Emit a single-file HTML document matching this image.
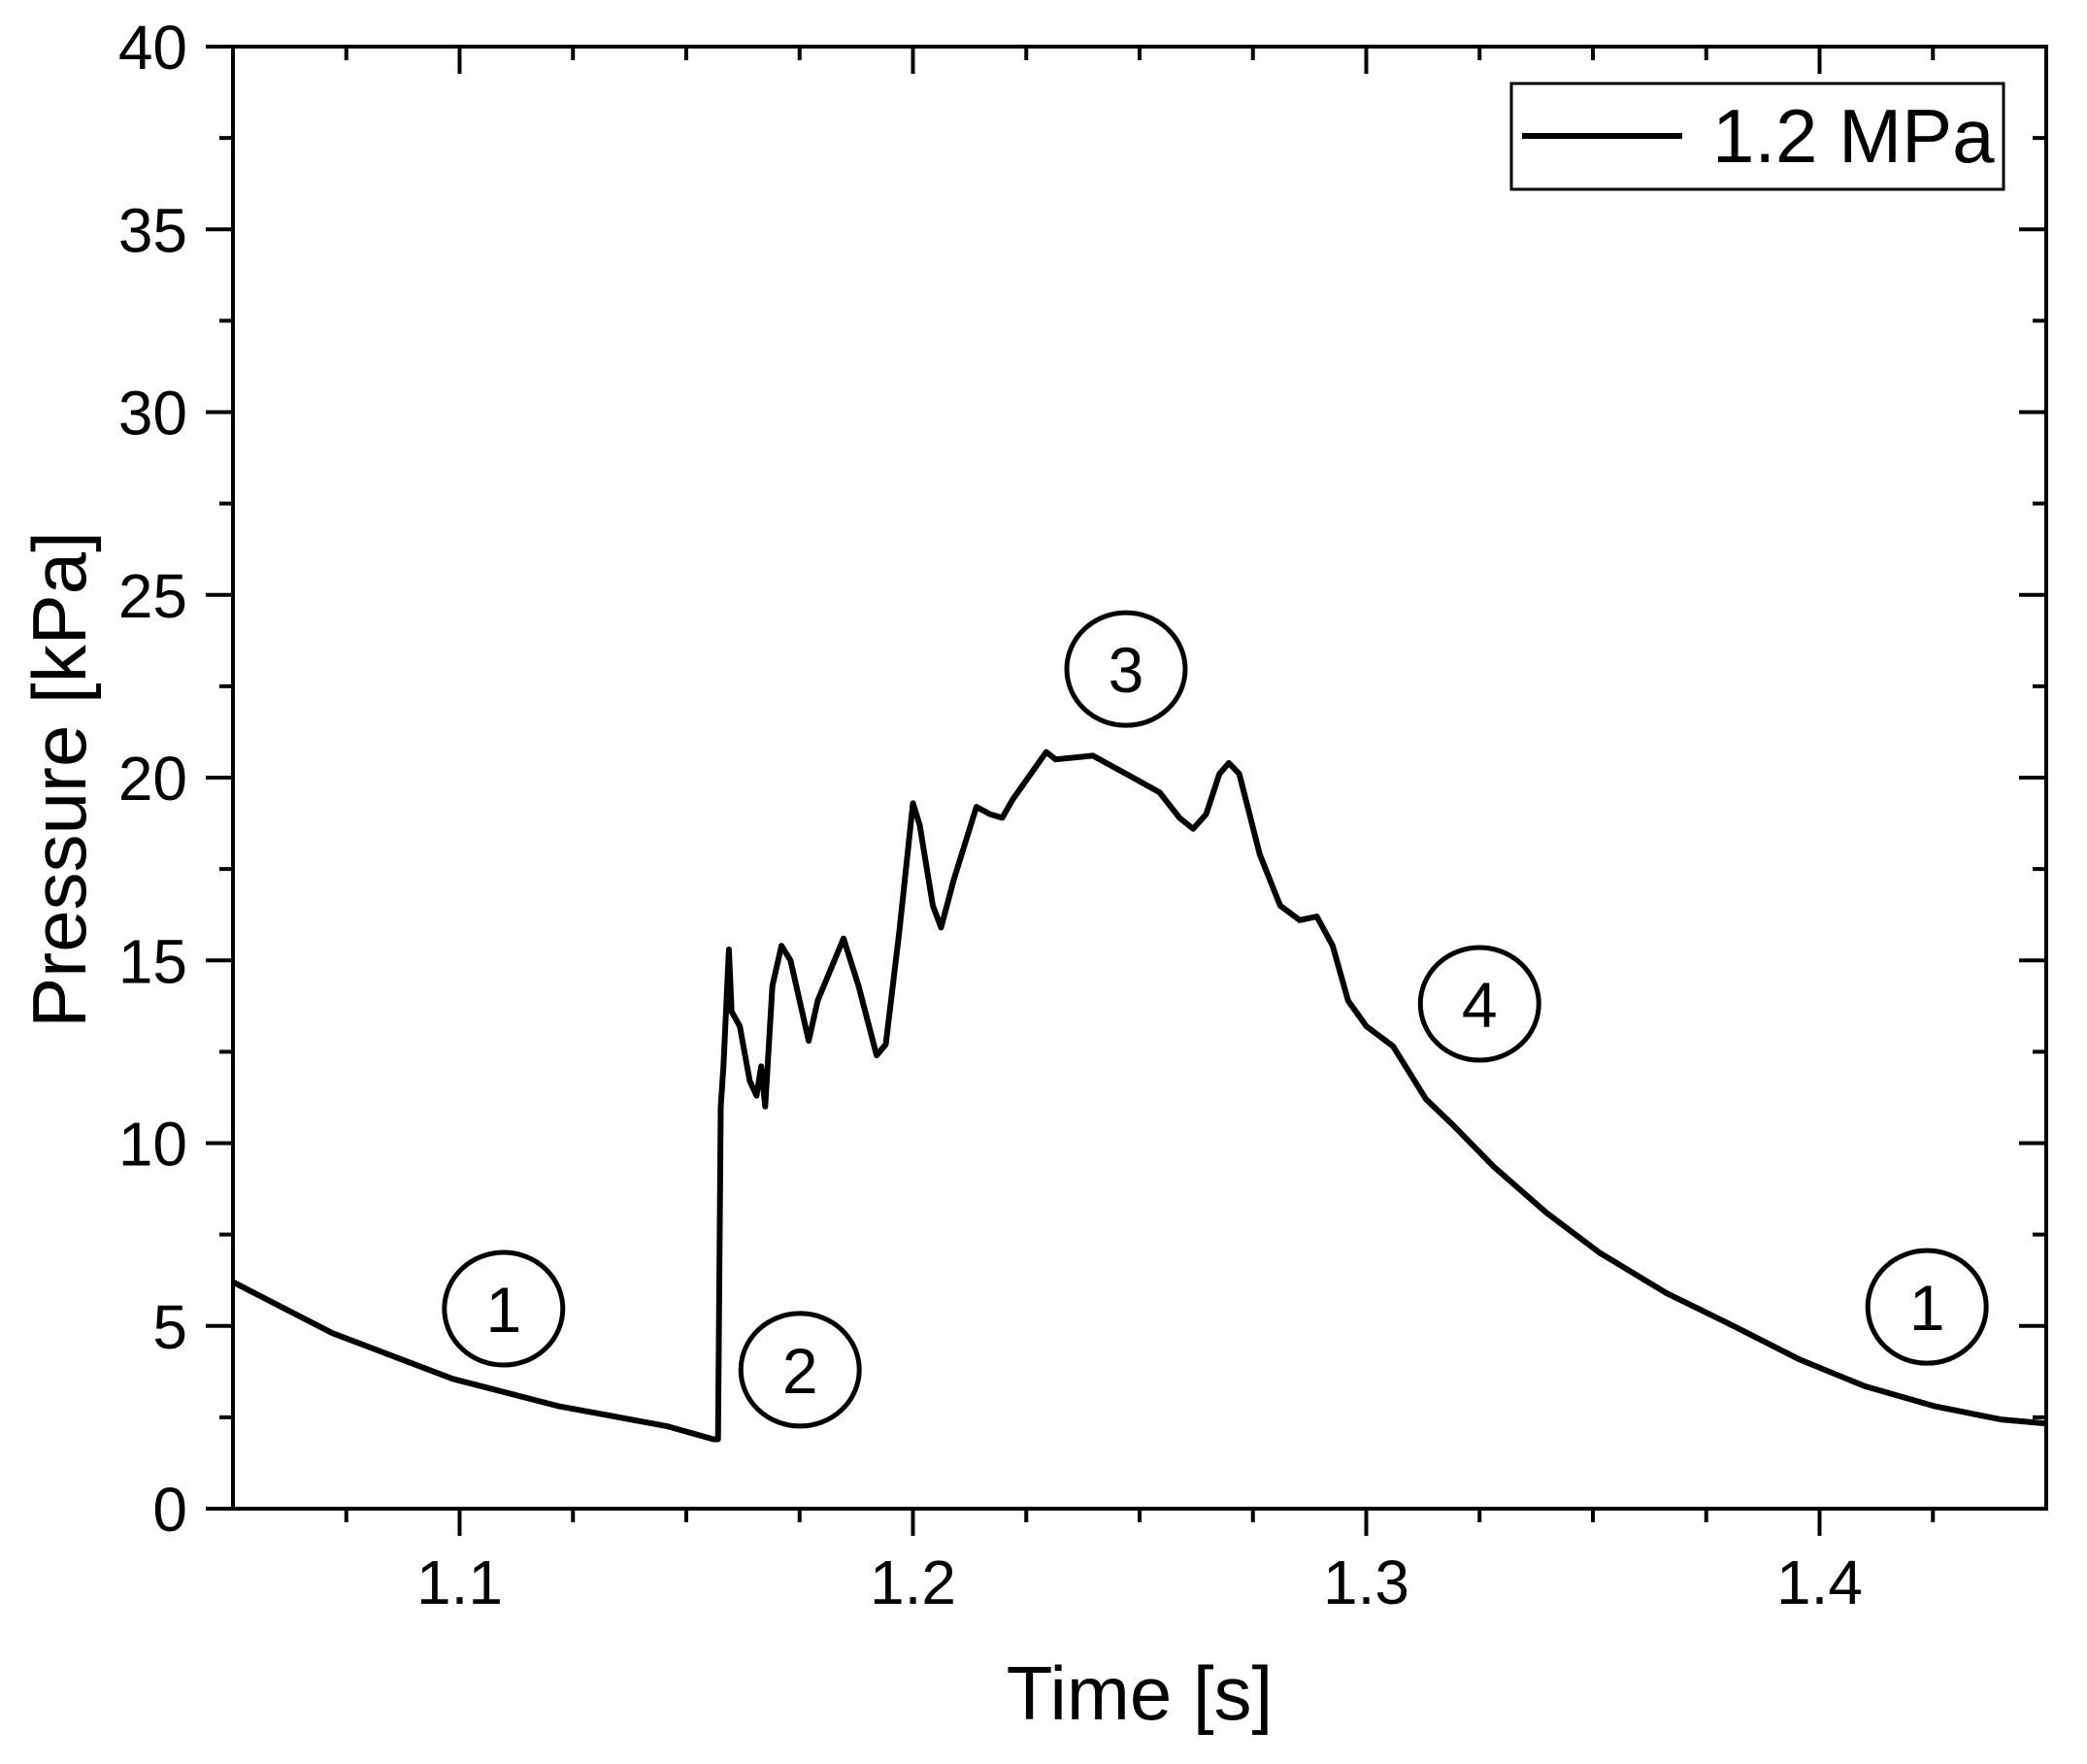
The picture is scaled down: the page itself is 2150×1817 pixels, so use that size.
<!DOCTYPE html>
<html><head><meta charset="utf-8"><style>
html,body{margin:0;padding:0;background:#fff;}
svg{display:block;font-family:"Liberation Sans",Arial,sans-serif;}
</style></head><body>
<svg id="chart" width="2150" height="1817" viewBox="0 0 2150 1817" xmlns="http://www.w3.org/2000/svg">
<g id="axes"></g>
<g id="series"></g>
<g id="annot"></g>
<g>
<rect x="1557" y="86" width="507" height="109" fill="#fff" stroke="#000" stroke-width="3"/>
<line x1="1568" y1="140" x2="1733" y2="140" stroke="#000" stroke-width="6"/>
<text x="1764" y="167" font-size="78">1.2 MPa</text>
</g>
<text x="1174" y="1771" font-size="78" text-anchor="middle">Time [s]</text>
<text transform="translate(88,803) rotate(-90)" font-size="78" text-anchor="middle">Pressure [kPa]</text>
</svg>
<script>
const times=[1.05,1.072,1.0985,1.122,1.1456,1.156,1.157,1.1576,1.1582,1.1594,1.160,1.1618,1.164,1.1655,1.1665,1.1674,1.169,1.171,1.173,1.177,1.179,1.1847,1.188,1.192,1.194,1.197,1.200,1.2015,1.2044,1.2062,1.209,1.214,1.217,1.2197,1.222,1.2294,1.2315,1.2397,1.2456,1.250,1.2544,1.2588,1.2618,1.2647,1.2676,1.2697,1.272,1.2765,1.281,1.2853,1.2891,1.2926,1.296,1.300,1.3059,1.3132,1.3191,1.328,1.3397,1.3515,1.3662,1.381,1.3956,1.410,1.4255,1.44,1.45];
const pressures=[6.2,4.8,3.55,2.8,2.26,1.9,1.9,11,12.1,15.3,13.6,13.2,11.7,11.3,12.1,11.0,14.3,15.4,15.0,12.8,13.9,15.6,14.3,12.4,12.7,15.8,19.3,18.7,16.5,15.9,17.2,19.2,19.0,18.9,19.4,20.7,20.5,20.6,20.2,19.9,19.6,18.9,18.6,19.0,20.1,20.4,20.1,17.9,16.5,16.1,16.2,15.4,13.9,13.2,12.65,11.2,10.5,9.37,8.1,7.0,5.9,5.0,4.08,3.35,2.8,2.44,2.33];
const xTicks=[1.1,1.2,1.3,1.4];
const yTicks=[0,5,10,15,20,25,30,35,40];
const annotLabels=["1","2","3","4","1"];
const annotTimes=[1.1097,1.1751,1.247,1.325,1.4237];
const annotValues=[5.47,3.8,22.97,13.81,5.52];

const L=240,R=2108,T=48,B=1554,X0=1.05,X1=1.45,Y0=0,Y1=40;
const sx=t=>L+(t-X0)/(X1-X0)*(R-L);
const sy=p=>B-(p-Y0)/(Y1-Y0)*(B-T);
const NS="http://www.w3.org/2000/svg";
function mk(tag,attrs,parent){const e=document.createElementNS(NS,tag);for(const k in attrs)e.setAttribute(k,attrs[k]);parent.appendChild(e);return e;}
const ax=document.getElementById('axes');
let frame=mk('rect',{x:L,y:T,width:R-L,height:B-T,fill:'none',stroke:'#000','stroke-width':4},ax);


for(let i=1;i<16;i++){const t=X0+i*0.025;const x=sx(t);const major=(i%4===2);const len=major?28:14;
 let tk=mk('path',{d:`M${x},${B}V${B+len}M${x},${T}V${T+len}`,stroke:'#000','stroke-width':4},ax);
 
 }
xTicks.forEach(v=>{let tx=mk('text',{x:sx(v),y:1652,'font-size':64,'text-anchor':'middle'},ax);tx.textContent=v.toFixed(1);
 
 });
for(let i=0;i<=16;i++){const p=i*2.5;const y=sy(p);const major=(i%2===0);const len=major?28:14;
 let tk=mk('path',{d:`M${L},${y}H${L-len}M${R},${y}H${R-len}`,stroke:'#000','stroke-width':4},ax);
 
 }
yTicks.forEach(v=>{let tx=mk('text',{x:193,y:sy(v)+23,'font-size':64,'text-anchor':'end'},ax);tx.textContent=v;
 
 });
const se=document.getElementById('series');
let d=times.map((t,i)=>(i?'L':'M')+sx(t).toFixed(1)+','+sy(pressures[i]).toFixed(1)).join('');
let line=mk('path',{d:d,fill:'none',stroke:'#000','stroke-width':6,'stroke-linejoin':'round'},se);


const an=document.getElementById('annot');
annotLabels.forEach((lab,i)=>{const cx=sx(annotTimes[i]),cy=sy(annotValues[i]);
 let c=mk('ellipse',{cx:cx,cy:cy,rx:61,ry:58,fill:'none',stroke:'#000','stroke-width':5},an);
 
 
 let tx=mk('text',{x:cx,y:cy+24,'font-size':66,'text-anchor':'middle'},an);tx.textContent=lab;
 
 });
</script>
</body></html>
